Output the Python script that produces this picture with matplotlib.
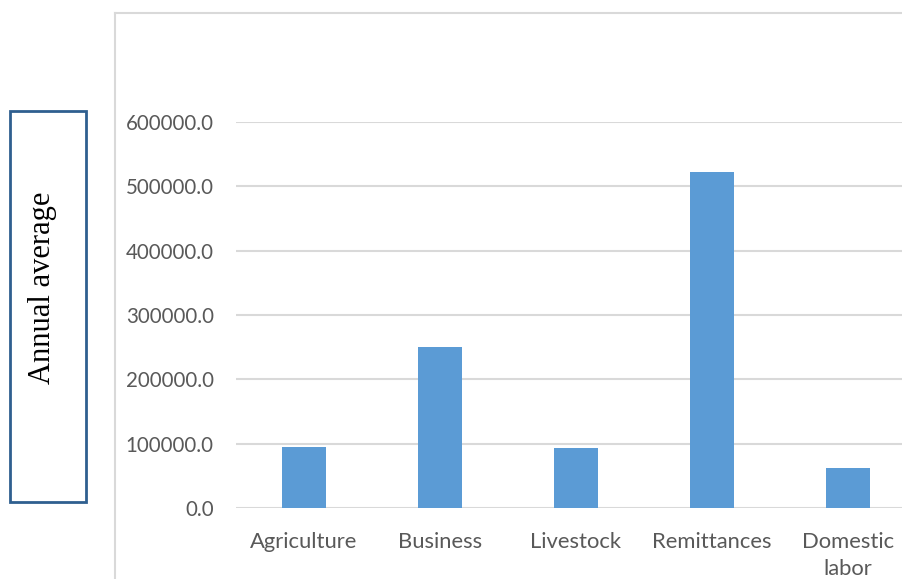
import matplotlib
matplotlib.use("Agg")
import matplotlib.pyplot as plt
from matplotlib.patches import Rectangle
from matplotlib.lines import Line2D

categories = ["Agriculture", "Business", "Livestock", "Remittances", "Domestic\nlabor"]
values = [95000, 250000, 93000, 523000, 61500]
yticks = [0, 100000, 200000, 300000, 400000, 500000, 600000]

W, H = 903, 579
fig = plt.figure(figsize=(W / 100, H / 100), dpi=100)
fig.patch.set_facecolor("white")

# plot area (runs a little past the right edge, like the cropped source)
ax = fig.add_axes([236 / W, (H - 508) / H, 680 / W, 386 / H])
ax.bar(range(len(categories)), values, width=0.32, color="#5b9bd5", zorder=3)
ax.set_xlim(-0.5, len(categories) - 0.5)
ax.set_ylim(0, 600000)
ax.set_yticks(yticks)
ax.set_yticklabels([f"{v:.1f}" for v in yticks])
ax.set_xticks(range(len(categories)))
ax.set_xticklabels(categories, linespacing=1.45)
ax.grid(axis="y", color="#d9d9d9", lw=1.5, zorder=0)
for s in ax.spines.values():
    s.set_visible(False)
ax.tick_params(length=0, colors="#595959")
ax.tick_params(axis="y", pad=16, labelsize=14.8)
ax.tick_params(axis="x", pad=17, labelsize=15.8)
for lab in ax.get_xticklabels() + ax.get_yticklabels():
    lab.set_fontfamily("Lato")

# chart area border (top and left only visible)
fig.add_artist(Line2D([115 / W, 115 / W], [0, (H - 13) / H], color="#d9d9d9", lw=1.5))
fig.add_artist(Line2D([115 / W, 1], [(H - 13) / H, (H - 13) / H], color="#d9d9d9", lw=1.5))

# the "Annual average" text box
fig.add_artist(Rectangle((10 / W, (H - 502) / H), 76 / W, 391 / H, fill=False,
                         edgecolor="#2f5f8f", lw=2, transform=fig.transFigure))
fig.text(43 / W, (H - 288) / H, "Annual average", rotation=90, ha="center", va="center",
         fontsize=22, family="Liberation Serif", color="black")

fig.savefig("out.png", dpi=100)
